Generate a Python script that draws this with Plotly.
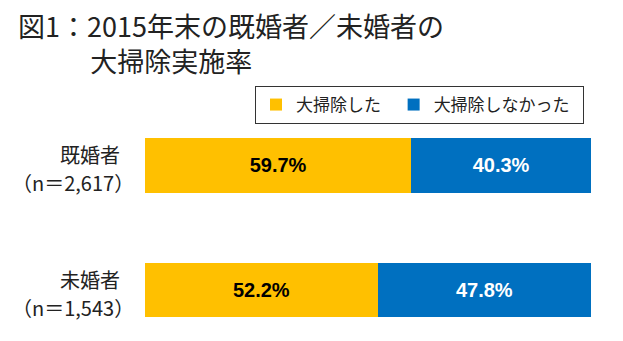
import plotly.graph_objects as go

cat_names = ["既婚者", "未婚者"]
cat_counts = ["（n＝2,617）", "（n＝1,543）"]
cleaned = [59.7, 52.2]
not_cleaned = [40.3, 47.8]
series_names = ["大掃除した", "大掃除しなかった"]
colors = ["#FFC000", "#0070C0"]
title_lines = ["図1：2015年末の既婚者／未婚者の", "大掃除実施率"]

JP = "Noto Sans CJK JP, Noto Sans, sans-serif"
NUM = "Liberation Sans Narrow, Arial Narrow, Liberation Sans, sans-serif"

ypos = [0, 1]
NB = "\u00a0"

fig = go.Figure()
fig.add_trace(go.Bar(
    y=ypos, x=cleaned, orientation="h", name=series_names[0] + NB * 2,
    marker=dict(color=colors[0], line=dict(width=0)),
    text=[f"{v:.1f}%" for v in cleaned], textposition="inside",
    insidetextanchor="middle",
    textfont=dict(family=NUM, size=20, color="black", weight="bold"),
    width=0.44,
))
fig.add_trace(go.Bar(
    y=ypos, x=not_cleaned, orientation="h", name=series_names[1] + NB * 2,
    marker=dict(color=colors[1], line=dict(width=0)),
    text=[f"{v:.1f}%" for v in not_cleaned], textposition="inside",
    insidetextanchor="middle",
    textfont=dict(family=NUM, size=20, color="white", weight="bold"),
    width=0.44,
))

L, R, T, B = 145, 32, 100, 0
W, H = 623, 341
pw = W - L - R
ph = H - T - B

title_text = title_lines[0] + "<br>" + "\u3000\u3000" + NB * 3 + title_lines[1]

annotations = [
    dict(text=title_text, xref="paper", yref="paper", align="left",
         x=(16 - L) / pw, y=1 + (T - 43) / ph, xanchor="left", yanchor="middle",
         showarrow=False, font=dict(family=JP, size=27, color="#222222")),
]
for i, (n, c) in enumerate(zip(cat_names, cat_counts)):
    annotations.append(dict(text=n, xref="paper", yref="y", x=(122 - L) / pw, y=ypos[i],
                            yshift=11, xanchor="right", yanchor="middle", showarrow=False,
                            height=26, valign="middle",
                            font=dict(family=JP, size=20, color="#222222")))
    annotations.append(dict(text=c, xref="paper", yref="y", x=(136 - L) / pw, y=ypos[i],
                            yshift=-17, xanchor="right", yanchor="middle", showarrow=False,
                            height=26, valign="middle",
                            font=dict(family=JP, size=20, color="#222222")))

fig.update_layout(
    width=W, height=H,
    margin=dict(l=L, r=R, t=T, b=B, autoexpand=False),
    barmode="stack",
    paper_bgcolor="white", plot_bgcolor="white",
    font=dict(family=JP, color="#222222"),
    xaxis=dict(range=[0, 100], visible=False, fixedrange=True),
    yaxis=dict(range=[1.41, -0.526], tickvals=ypos, showticklabels=False,
               showgrid=False, zeroline=False, showline=False, ticks=""),
    showlegend=True,
    legend=dict(
        orientation="h", xref="container", yref="container",
        x=255 / W, y=1 - 86 / H, xanchor="left", yanchor="top",
        bordercolor="#333333", borderwidth=1,
        font=dict(family=JP, size=17, color="#222222"),
        itemwidth=30, traceorder="normal",
    ),
    annotations=annotations,
)

fig.write_html("out.html")
